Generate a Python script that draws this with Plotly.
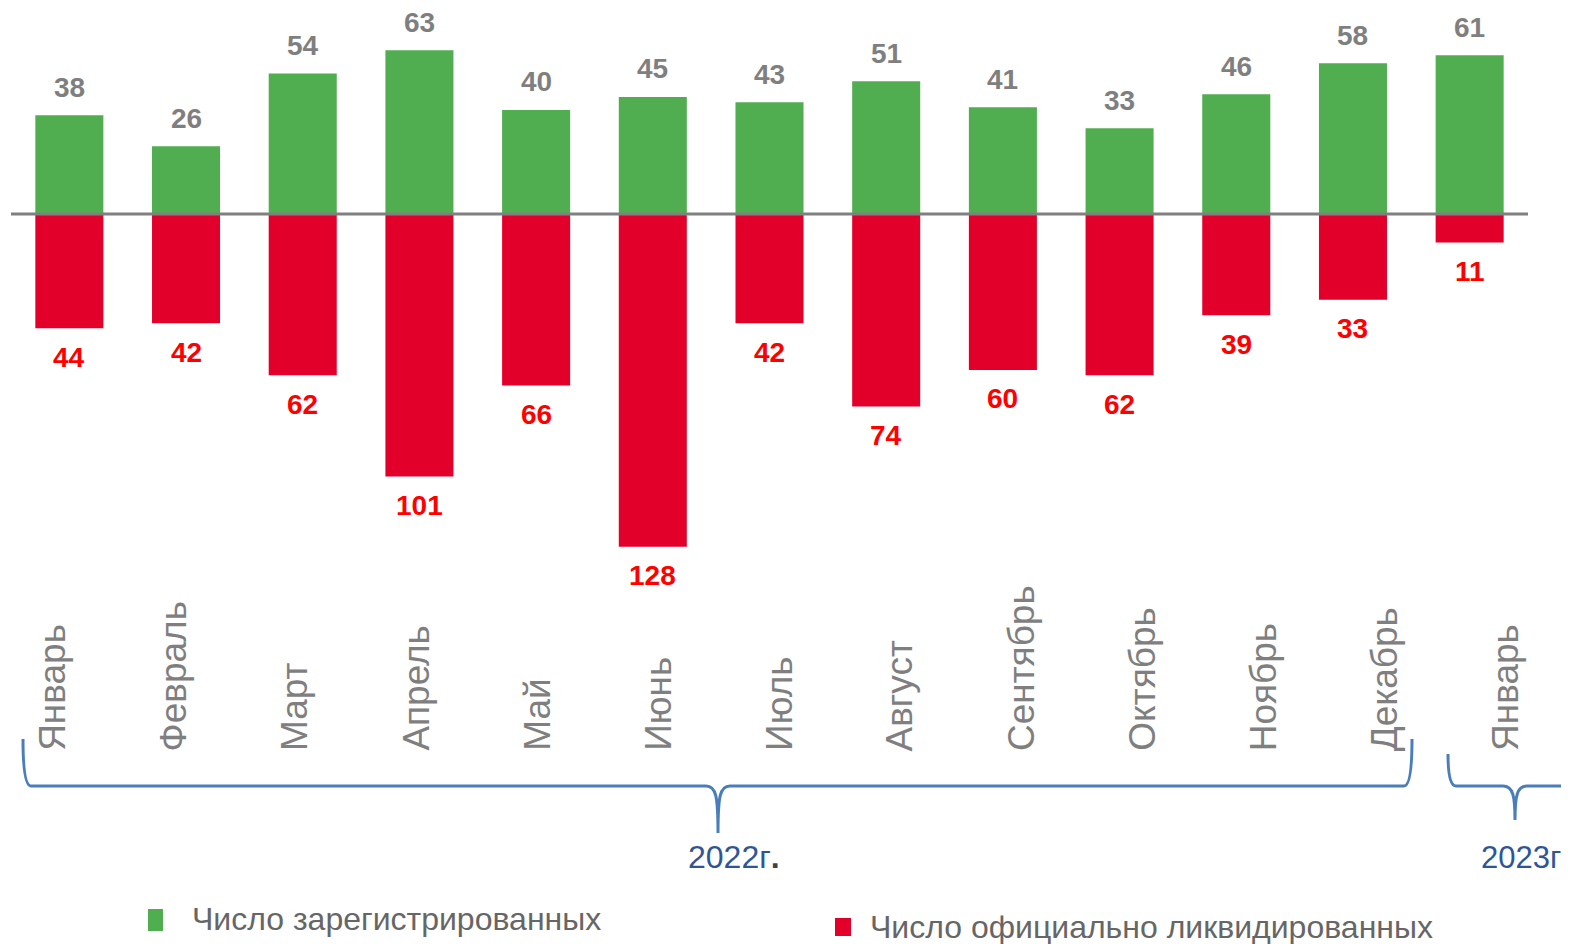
import plotly.graph_objects as go

# Данные
months = ["Январь", "Февраль", "Март", "Апрель", "Май", "Июнь", "Июль",
          "Август", "Сентябрь", "Октябрь", "Ноябрь", "Декабрь", "Январь"]
registered = [38, 26, 54, 63, 40, 45, 43, 51, 41, 33, 46, 58, 61]
liquidated = [44, 42, 62, 101, 66, 128, 42, 74, 60, 62, 39, 33, 11]
years = ["2022г", "2023г"]

GREEN = "#50AE50"
RED = "#E2002B"
BLUE = "#4A7EBB"
FONT = "Arial, Liberation Sans, sans-serif"

# страница имеет отступ 8px у body, поэтому фигура чуть меньше окна
OFF = 8
W, H = 1569 - OFF, 944 - OFF
ML, MR, MT, MB = 11 - OFF, 41, 0, 379
PW, PH = W - ML - MR, H - MT - MB


def px(x):
    return (x - OFF - ML) / PW


def py(y):
    return (H - MB - (y - OFF)) / PH


idx = list(range(len(months)))

fig = go.Figure()
fig.add_trace(go.Bar(x=idx, y=registered, marker=dict(color=GREEN, line=dict(width=0)),
                     width=0.583, name="Число зарегистрированных", showlegend=False))
fig.add_trace(go.Bar(x=idx, y=[-v for v in liquidated], marker=dict(color=RED, line=dict(width=0)),
                     width=0.583, name="Число официально ликвидированных", showlegend=False))

annotations = []
for i, v in enumerate(registered):
    annotations.append(dict(x=i, y=v, xref="x", yref="y", text=f"<b>{v}</b>", showarrow=False,
                            yshift=28, font=dict(size=28, color="#7F7F7F", family=FONT)))
for i, v in enumerate(liquidated):
    annotations.append(dict(x=i, y=-v, xref="x", yref="y", text=f"<b>{v}</b>", showarrow=False,
                            yshift=-29, font=dict(size=28, color="#FF0000", family=FONT)))

# подписи месяцев (повёрнутые)
for i, m in enumerate(months):
    annotations.append(dict(x=i, y=py(753), xref="x", yref="paper", text=m, showarrow=False,
                            textangle=-90, xanchor="center", yanchor="bottom",
                            xshift=-17 + i * 4.4,
                            font=dict(size=37, color="#7F7F7F", family=FONT)))

# годы
annotations.append(dict(x=px(734), y=py(857), xref="paper", yref="paper",
                        text=years[0] + "<b><span style='color:#404040'>.</span></b>",
                        showarrow=False, xanchor="center", yanchor="middle",
                        font=dict(size=32, color="#2F5597", family=FONT)))
annotations.append(dict(x=px(1479), y=py(857), xref="paper", yref="paper", text=years[1],
                        showarrow=False, xanchor="left", yanchor="middle",
                        font=dict(size=31, color="#2F5597", family=FONT)))

# легенда
annotations.append(dict(x=px(190), y=py(919), xref="paper", yref="paper",
                        text="Число зарегистрированных", showarrow=False,
                        xanchor="left", yanchor="middle",
                        font=dict(size=32, color="#666666", family=FONT)))
annotations.append(dict(x=px(868), y=py(927), xref="paper", yref="paper",
                        text="Число официально ликвидированных", showarrow=False,
                        xanchor="left", yanchor="middle",
                        font=dict(size=32, color="#666666", family=FONT)))


def brace(x0, y0, xt, yt, x1, y1, yh):
    return (f"M {px(x0)},{py(y0)} Q {px(x0)},{py(yh)} {px(x0 + 8)},{py(yh)} "
            f"L {px(xt - 12)},{py(yh)} C {px(xt - 2)},{py(yh)} {px(xt)},{py(yh + 10)} {px(xt)},{py(yt)} "
            f"C {px(xt)},{py(yh + 10)} {px(xt + 2)},{py(yh)} {px(xt + 12)},{py(yh)} "
            f"L {px(x1 - 8)},{py(yh)} Q {px(x1)},{py(yh)} {px(x1)},{py(y1)}")


shapes = [
    dict(type="line", xref="paper", yref="y", x0=0, x1=1, y0=0, y1=0,
         line=dict(color="#808080", width=3), layer="above"),
    dict(type="path", xref="paper", yref="paper", path=brace(23, 739, 718, 833, 1412, 739, 786),
         line=dict(color=BLUE, width=3)),
    dict(type="path", xref="paper", yref="paper", path=brace(1448, 754, 1515, 820, 1620, 754, 786),
         line=dict(color=BLUE, width=3)),
    dict(type="rect", xref="paper", yref="paper", x0=px(148), x1=px(163), y0=py(909), y1=py(931),
         fillcolor=GREEN, line=dict(width=0)),
    dict(type="rect", xref="paper", yref="paper", x0=px(835), x1=px(851), y0=py(918), y1=py(936),
         fillcolor=RED, line=dict(width=0)),
]

fig.update_layout(
    width=W, height=H,
    margin=dict(l=ML, r=MR, t=MT, b=MB),
    barmode="relative",
    plot_bgcolor="white", paper_bgcolor="white",
    xaxis=dict(range=[-0.5, 12.5], showticklabels=False, showgrid=False, zeroline=False,
               showline=False, ticks=""),
    yaxis=dict(range=[-135, 79.2], showticklabels=False, showgrid=False, zeroline=False,
               showline=False, ticks=""),
    annotations=annotations,
    shapes=shapes,
    showlegend=False,
    font=dict(family=FONT),
)

fig.write_html("out.html")
